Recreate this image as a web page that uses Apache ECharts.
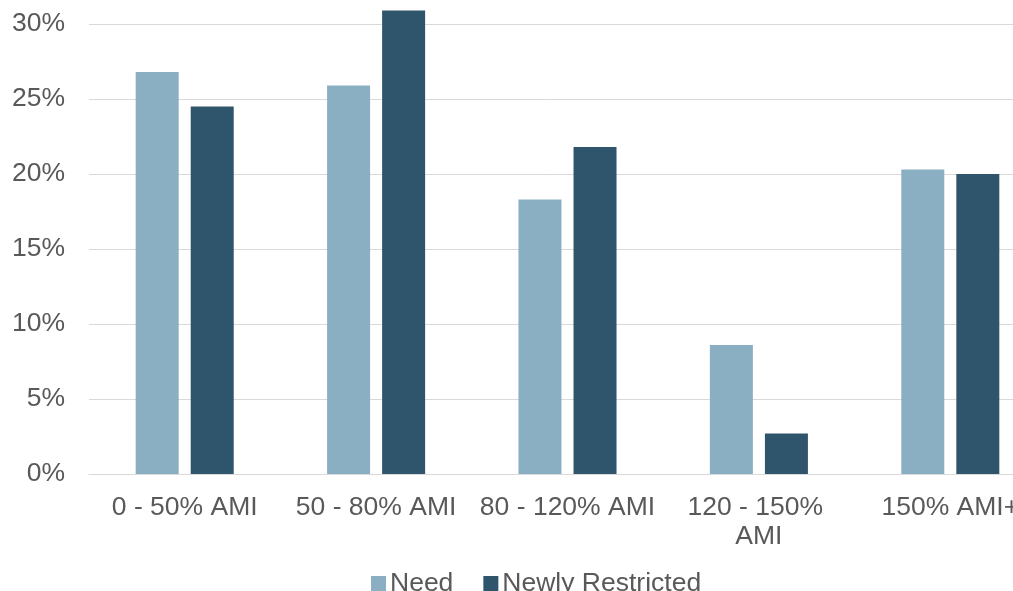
<!DOCTYPE html>
<html>
<head>
<meta charset="utf-8">
<script src="https://cdn.jsdelivr.net/npm/echarts@6/dist/echarts.min.js"></script>
<style>
  html, body { margin: 0; padding: 0; background: #ffffff; }
  #chart { width: 1013px; height: 591px; }
</style>
</head>
<body>
<div id="chart"></div>
<script>
// Share of households by income band (% of Area Median Income)
const categories = ['0 - 50% AMI', '50 - 80% AMI', '80 - 120% AMI', '120 - 150% AMI', '150% AMI+'];
const needValues = [26.8, 25.9, 18.3, 8.6, 20.3];
const newlyRestrictedValues = [24.5, 30.9, 21.8, 2.7, 20.0];
const yTicks = { min: 0, max: 30, interval: 5 };

const FONT = '"Liberation Sans", Arial, sans-serif';
const TEXT = '#595959';
const FS = 26.5;

const chart = echarts.init(document.getElementById('chart'), null, { renderer: 'canvas' });
chart.setOption({
  animation: false,
  backgroundColor: '#ffffff',
  textStyle: { fontFamily: FONT },
  grid: {
    left: 89, top: 24, width: 957, height: 450,
    containLabel: false,
    outerBoundsMode: 'none'
  },
  legend: {
    top: 565,
    left: 366,
    itemWidth: 15,
    itemHeight: 15,
    itemGap: 30,
    icon: 'rect',
    textStyle: { fontFamily: FONT, fontSize: FS, color: TEXT, padding: [0, 0, 0, -1] },
    data: ['Need', 'Newly Restricted']
  },
  xAxis: {
    type: 'category',
    data: categories,
    axisLine: { show: true, lineStyle: { color: '#d9d9d9', width: 1 } },
    axisTick: { show: false },
    axisLabel: {
      interval: 0,
      margin: 19,
      fontFamily: FONT,
      fontSize: FS,
      color: TEXT,
      lineHeight: 29,
      width: 180,
      overflow: 'break'
    }
  },
  yAxis: {
    type: 'value',
    min: yTicks.min,
    max: yTicks.max,
    interval: yTicks.interval,
    axisLine: { show: false },
    axisTick: { show: false },
    axisLabel: {
      formatter: '{value}%',
      margin: 24,
      fontFamily: FONT,
      fontSize: FS,
      color: TEXT
    },
    splitLine: { show: true, lineStyle: { color: '#d9d9d9', width: 1 } }
  },
  series: [
    {
      name: 'Need',
      type: 'bar',
      data: needValues,
      barWidth: 43,
      barGap: '28%',
      clip: false,
      itemStyle: { color: '#8bafc2' }
    },
    {
      name: 'Newly Restricted',
      type: 'bar',
      data: newlyRestrictedValues,
      barWidth: 43,
      barGap: '28%',
      clip: false,
      itemStyle: { color: '#2e556c' }
    }
  ]
});
</script>
</body>
</html>
